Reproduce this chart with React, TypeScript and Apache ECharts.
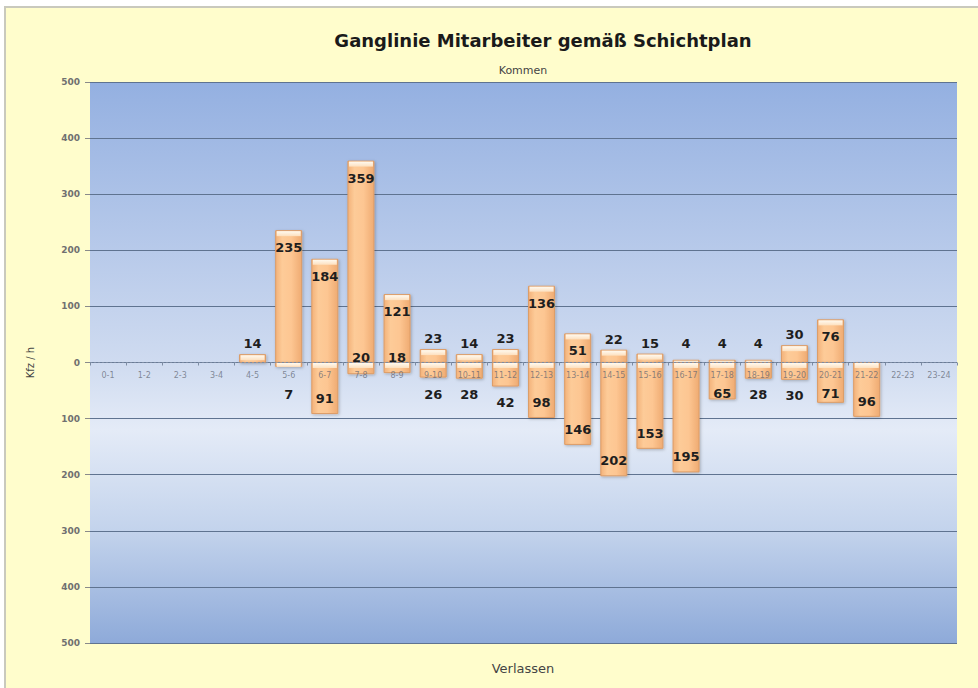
import React, { useEffect, useRef } from "react";
import * as echarts from "echarts";

const categories = [
  "0-1", "1-2", "2-3", "3-4", "4-5", "5-6", "6-7", "7-8", "8-9", "9-10", "10-11", "11-12",
  "12-13", "13-14", "14-15", "15-16", "16-17", "17-18", "18-19", "19-20", "20-21", "21-22", "22-23", "23-24",
];
// Kommen (arriving), per hour
const kommen = [0, 0, 0, 0, 14, 235, 184, 359, 121, 23, 14, 23, 136, 51, 22, 15, 4, 4, 4, 30, 76, 0, 0, 0];
// Verlassen (leaving), per hour (drawn downwards)
const verlassen = [0, 0, 0, 0, 0, 7, 91, 20, 18, 26, 28, 42, 98, 146, 202, 153, 195, 65, 28, 30, 71, 96, 0, 0];
const yTicks = [-500, -400, -300, -200, -100, 0, 100, 200, 300, 400, 500];
// categories whose Verlassen label sits at the zero line
const nearZeroLabelCats = ["7-8", "8-9"];

const FONT = "DejaVu Sans, Verdana, sans-serif";

const GRID_TOP = 82;
const GRID_BOTTOM = 45;
const CHART_H = 688;

function makeRenderItem(direction: 1 | -1) {
  return (params: any, api: any) => {
    const idx = api.value(0);
    const v = api.value(1);
    if (!v) return { type: "group", children: [] };
    const end = api.coord([idx, v]);
    const base = api.coord([idx, 0]);
    const w = api.size([1, 0])[0] * 0.72;
    const cx = end[0];
    const x = cx - w / 2;
    const y1 = Math.min(end[1], base[1]);
    const y2 = Math.max(end[1], base[1]);
    const h = y2 - y1;
    const abs = Math.abs(v);
    const band = Math.min(5, h);
    let ly: number;
    const cat = categories[idx];
    if (direction === 1) {
      ly = abs >= 50 ? y1 + 17 : Math.min(y1 - 11, base[1] - 19);
    } else {
      if (nearZeroLabelCats.indexOf(cat) >= 0) ly = base[1] - 5;
      else ly = abs >= 50 ? Math.max(y2 - 15, base[1] + 31) : Math.max(y2 + 16, base[1] + 32);
    }
    return {
      type: "group",
      children: [
        {
          type: "rect",
          shape: { x, y: y1, width: w, height: h },
          style: {
            fill: new echarts.graphic.LinearGradient(0, 0, 1, 0, [
              { offset: 0, color: "#f3b27a" },
              { offset: 0.25, color: "#fdcb98" },
              { offset: 0.6, color: "#fdc692" },
              { offset: 1, color: "#efab72" },
            ]),
            stroke: "#dd9c66",
            lineWidth: 1,
            shadowBlur: 3,
            shadowOffsetX: 1,
            shadowOffsetY: 1,
            shadowColor: "rgba(0,0,0,0.25)",
          },
        },
        {
          type: "rect",
          shape: { x: x + 1, y: y1 + 0.5, width: w - 2, height: band },
          style: {
            fill: new echarts.graphic.LinearGradient(0, 0, 0, 1, [
              { offset: 0, color: "#fffaf0" },
              { offset: 1, color: "#fde0bf" },
            ]),
          },
        },
        {
          type: "text",
          x: cx,
          y: ly,
          style: {
            text: String(abs),
            fill: "#1e1e1e",
            font: `bold 13px ${FONT}`,
            align: "center",
            verticalAlign: "middle",
          },
        },
      ],
    };
  };
}

export default function App() {
  const ref = useRef<HTMLDivElement>(null);
  useEffect(() => {
    if (!ref.current) return;
    const chart = echarts.init(ref.current, undefined, { renderer: "svg" });
    const gridH = CHART_H - GRID_TOP - GRID_BOTTOM;
    chart.setOption({
      animation: false,
      backgroundColor: "#ffffff",
      graphic: [
        {
          type: "rect",
          z: -10,
          shape: { x: 5, y: 7, width: 980, height: 690 },
          style: { fill: "#fffdcc", stroke: "#c9c9bd", lineWidth: 2 },
        },
        {
          type: "text",
          x: 543,
          y: 40,
          style: {
            text: "Ganglinie Mitarbeiter gemäß Schichtplan",
            font: `bold 18px ${FONT}`,
            fill: "#1a1a1a",
            align: "center",
            verticalAlign: "middle",
          },
        },
        {
          type: "text",
          x: 523,
          y: 70,
          style: { text: "Kommen", font: `11px ${FONT}`, fill: "#444", align: "center", verticalAlign: "middle" },
        },
        {
          type: "text",
          x: 523,
          y: 668,
          style: { text: "Verlassen", font: `13px ${FONT}`, fill: "#444", align: "center", verticalAlign: "middle" },
        },
      ],
      grid: {
        left: 90,
        right: 21,
        top: GRID_TOP,
        bottom: GRID_BOTTOM,
        show: true,
        borderWidth: 0,
        backgroundColor: {
          type: "linear",
          x: 0,
          y: 0,
          x2: 0,
          y2: 1,
          colorStops: [
            { offset: 0, color: "#94b0e1" },
            { offset: 0.5, color: "#cfdbf0" },
            { offset: 0.62, color: "#e4ebf7" },
            { offset: 0.8, color: "#c3d3ec" },
            { offset: 1, color: "#8eaad9" },
          ],
        },
      },
      xAxis: {
        type: "category",
        data: categories,
        position: "bottom",
        offset: -gridH / 2,
        z: 5,
        axisLine: { onZero: false, lineStyle: { color: "#7d8ca3", type: [2, 2], width: 1 } },
        axisTick: { show: true, length: 3, lineStyle: { color: "#7d8ca3" } },
        axisLabel: { fontSize: 8, color: "rgba(90,95,110,0.7)", margin: 9, fontFamily: FONT, interval: 0 },
        splitLine: { show: false },
      },
      yAxis: {
        type: "value",
        min: yTicks[0],
        max: yTicks[yTicks.length - 1],
        interval: 100,
        name: "Kfz / h",
        nameLocation: "middle",
        nameRotate: 90,
        nameGap: 55,
        nameTextStyle: { fontSize: 10, color: "#444", fontFamily: FONT },
        axisLine: { show: false },
        axisTick: { show: true, length: 5, lineStyle: { color: "#8a8a8a" } },
        axisLabel: {
          fontSize: 9,
          fontWeight: "bold",
          color: "#707070",
          margin: 10,
          fontFamily: FONT,
          formatter: (val: number) => String(Math.abs(val)),
        },
        splitLine: { show: true, lineStyle: { color: "#5f7390", width: 1 } },
      },
      series: [
        {
          type: "custom",
          name: "Kommen",
          renderItem: makeRenderItem(1),
          data: kommen.map((v, i) => [i, v]),
          encode: { x: 0, y: 1 },
          z: 2,
        },
        {
          type: "custom",
          name: "Verlassen",
          renderItem: makeRenderItem(-1),
          data: verlassen.map((v, i) => [i, -v]),
          encode: { x: 0, y: 1 },
          z: 3,
        },
      ],
    });
    return () => chart.dispose();
  }, []);
  return <div ref={ref} style={{ position: "fixed", left: 0, top: 0, width: 978, height: 688 }} />;
}
